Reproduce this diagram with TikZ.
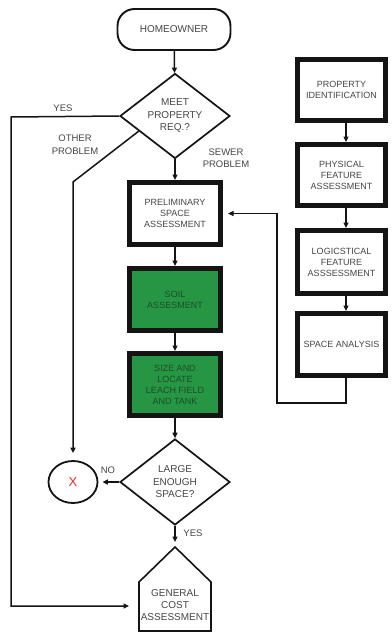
\documentclass[tikz,border=0pt]{standalone}
\usepackage{fontspec}
\setmainfont{Liberation Sans}
\usetikzlibrary{shapes.geometric,arrows.meta,calc}
\definecolor{txt}{RGB}{70,70,70}
\definecolor{leaf}{RGB}{38,150,68}
\definecolor{leaftxt}{RGB}{28,78,38}
\definecolor{ink}{RGB}{20,20,20}
\definecolor{xred}{RGB}{225,45,45}
\tikzset{
  thickbox/.style={draw=ink, line width=5pt, inner sep=0pt, align=center,
    font=\fontsize{9}{11}\selectfont, text=txt},
  greenbox/.style={thickbox, fill=leaf, text=leaftxt, minimum width=91pt, minimum height=62pt},
  leftbox/.style={thickbox, minimum width=91pt, minimum height=62pt},
  rightbox/.style={thickbox, minimum width=88pt, minimum height=61pt},
  dia/.style={diamond, draw=ink, line width=1.7pt, aspect=1.31, inner sep=0pt,
    minimum width=110pt, minimum height=85pt, align=center,
    font=\fontsize{10}{12.5}\selectfont, text=txt},
  arr/.style={draw=ink, line width=1.5pt, -{Triangle[length=5.5pt,width=5pt]}},
  lbl/.style={align=center, font=\fontsize{9.5}{12}\selectfont, text=txt, inner sep=0pt}
}
\begin{document}
\begin{tikzpicture}[x=1pt,y=-1pt]
\clip (0,0) rectangle (391,632);
\fill[white] (0,0) rectangle (391,632);

% start
\node[draw=ink, line width=1.9pt, rounded corners=17pt, minimum width=113pt, minimum height=41pt,
  font=\fontsize{10}{12}\selectfont, text=txt, inner sep=0pt] (home) at (174,29.5) {HOMEOWNER};

\node[dia] (meet) at (175,116) {MEET\\PROPERTY\\REQ.?};

% left column
\node[leftbox] (prelim) at (175,213.5) {PRELIMINARY\\SPACE\\ASSESSMENT};
\node[greenbox] (soil) at (175,299.5) {SOIL\\ASSESMENT};
\node[greenbox] (size) at (175,384.5) {SIZE AND\\LOCATE\\LEACH FIELD\\AND TANK};

\node[dia, minimum height=86pt] (large) at (175,482) {LARGE\\ENOUGH\\SPACE?};

\node[ellipse, draw=ink, line width=1.8pt, minimum width=49pt, minimum height=42pt, inner sep=0pt,
  text=xred, font=\fontsize{13}{13}\selectfont] (circ) at (73,482) {X};

% house shape
\coordinate (apex) at (175,547);
\coordinate (shL) at (139,582);
\coordinate (shR) at (211,582);
\coordinate (bL) at (139,631);
\coordinate (bR) at (211,631);
\draw[draw=ink, line width=1.6pt, line join=miter] (bL) -- (shL) -- (apex) -- (shR) -- (bR) -- cycle;
\node[lbl, font=\fontsize{10}{12}\selectfont] (gca) at (175,605) {GENERAL\\COST\\ASSESSMENT};

% right column
\node[rightbox] (prop) at (341.5,90) {PROPERTY\\IDENTIFICATION};
\node[rightbox] (phys) at (341.5,175) {PHYSICAL\\FEATURE\\ASSESSMENT};
\node[rightbox, minimum height=63pt] (logi) at (341.5,262) {LOGICSTICAL\\FEATURE\\ASSSESSMENT};
\node[rightbox, minimum height=62pt] (space) at (341.5,344.5) {SPACE ANALYSIS};

% coordinates for bends
\coordinate (y1) at (11,117);
\coordinate (y2) at (11,606);
\coordinate (yend) at (139,606);
\coordinate (bend) at (73,182);
\coordinate (f1) at (346,403);
\coordinate (f2) at (277,403);
\coordinate (f3) at (277,213.5);

% connectors
\draw[arr] (home) -- (meet);
\draw[arr] (meet) -- (prelim);
\draw[arr] (prelim) -- (soil);
\draw[arr] (soil) -- (size);
\draw[arr] (size) -- (large);
\draw[arr, shorten >=5pt] (large.south) -- (apex);
\draw[arr, shorten >=4pt] (large.west) -- (circ.east);
\draw[arr, shorten >=10pt] (meet.west) -- (y1) -- (y2) -- (yend);
\draw[arr, shorten >=7pt] ($(meet.west)!0.35!(meet.south)$) -- (bend) -- (circ.north);

\draw[arr] ([xshift=4.5pt]prop.south) -- ([xshift=4.5pt]phys.north);
\draw[arr] ([xshift=4.5pt]phys.south) -- ([xshift=4.5pt]logi.north);
\draw[arr] ([xshift=4.5pt]logi.south) -- ([xshift=4.5pt]space.north);
\draw[arr, shorten >=5pt] ([xshift=4.5pt]space.south) -- (f1) -- (f2) -- (f3) -- (prelim.east);

% labels
\node[lbl] (lyes) at (63,108) {YES};
\node[lbl, font=\fontsize{9.5}{13}\selectfont] (lother) at (75,144.5) {OTHER\\PROBLEM};
\node[lbl, font=\fontsize{9.5}{11.5}\selectfont] (lsewer) at (226,158) {SEWER\\PROBLEM};
\node[lbl] (lno) at (108,470) {NO};
\node[lbl] (lyes2) at (193,533) {YES};
\end{tikzpicture}
\end{document}
